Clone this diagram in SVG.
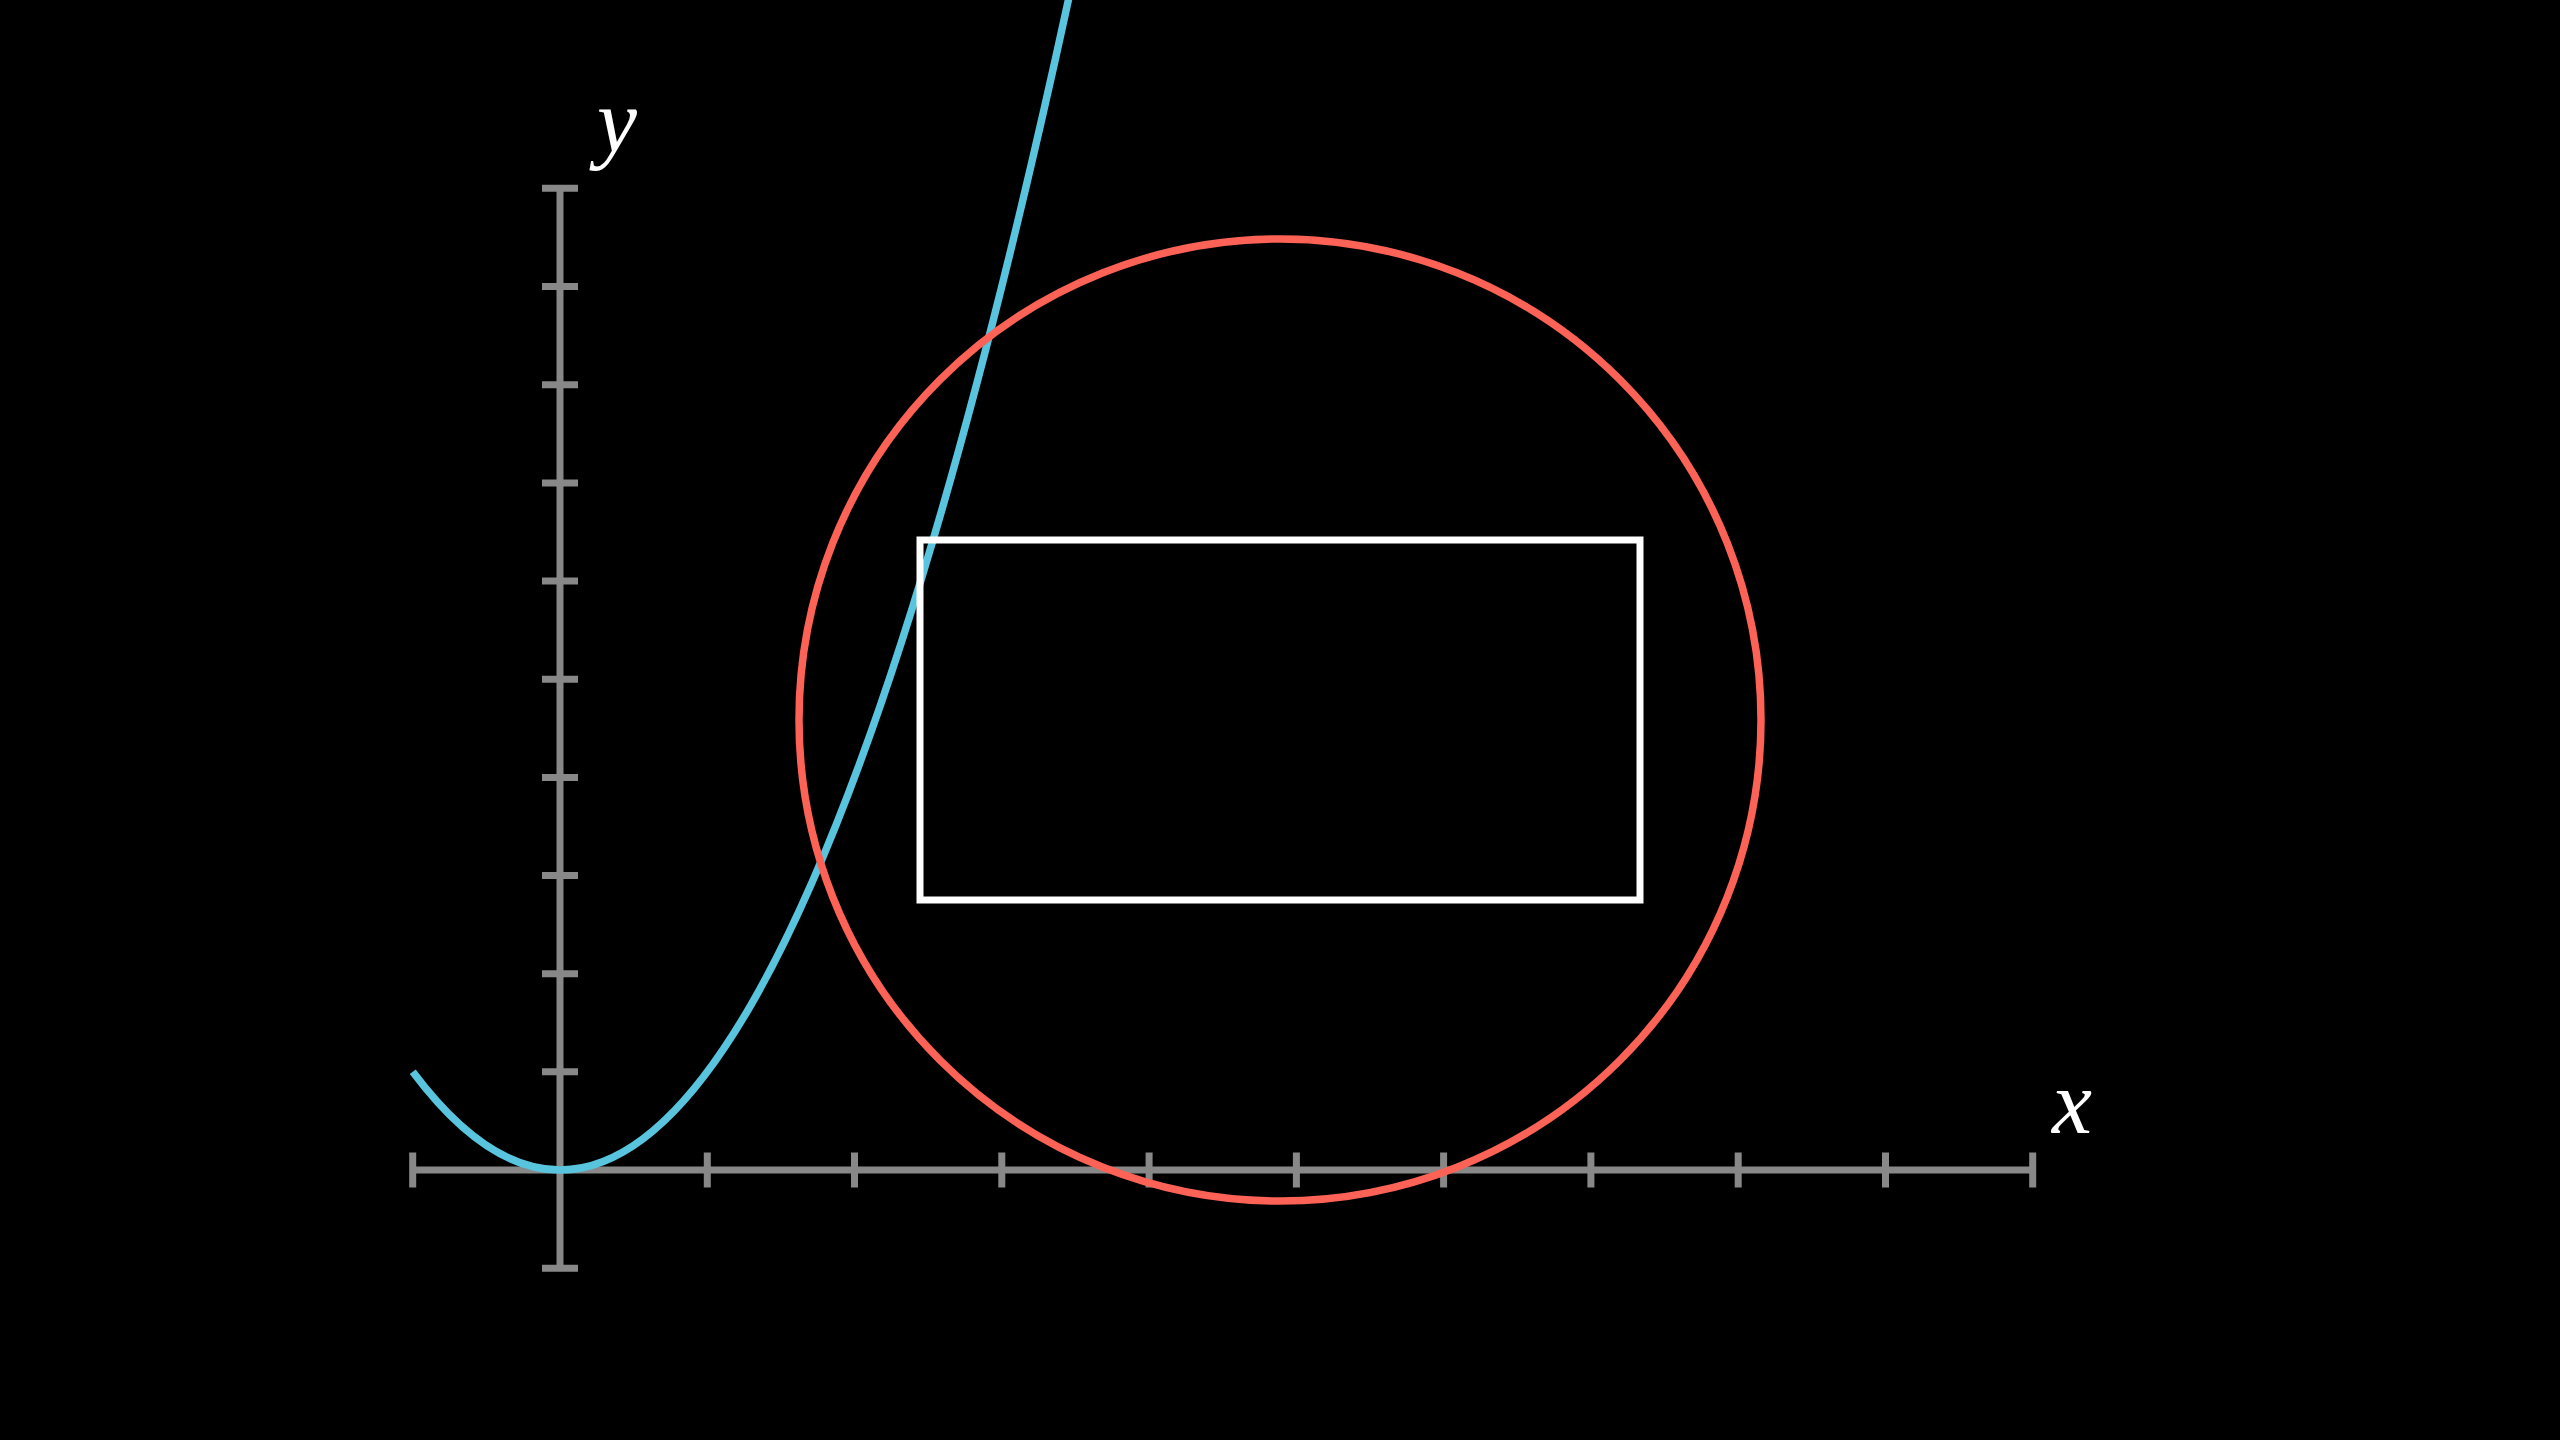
<svg xmlns="http://www.w3.org/2000/svg" width="2560" height="1440" viewBox="0 0 2560 1440">
<style>
.axis{stroke:#888888;stroke-width:7;fill:none}
.lbl{font-family:"Liberation Serif","DejaVu Serif",serif;font-style:italic;font-size:90px;fill:#ffffff}
</style>
<rect width="2560" height="1440" fill="#000000"/>
<g id="x-axis">
<path class="axis" d="M412.7 1170H2032.7"/>
<path class="axis" d="M412.7 1152.5v35M707.3 1152.5v35M854.5 1152.5v35M1001.8 1152.5v35M1149.1 1152.5v35M1296.4 1152.5v35M1443.6 1152.5v35M1590.9 1152.5v35M1738.2 1152.5v35M1885.5 1152.5v35M2032.7 1152.5v35"/>
<text class="lbl" x="2052" y="1133">x</text>
</g>
<g id="y-axis">
<path class="axis" d="M560 188.3V1268.3"/>
<path class="axis" d="M542 188.3h36M542 286.5h36M542 384.7h36M542 482.9h36M542 581h36M542 679.2h36M542 777.4h36M542 875.6h36M542 973.8h36M542 1071.8h36M542 1268.3h36"/>
<text class="lbl" x="597" y="152">y</text>
</g>
<g id="parabola">
<path d="M412.73 1071.82Q751.45 1523.45 1090.17 -102.4" fill="none" stroke="#58C4DD" stroke-width="7.5"/>
</g>
<g id="circle">
<circle cx="1280" cy="720" r="481" fill="none" stroke="#FC6255" stroke-width="7.5"/>
</g>
<g id="rectangle">
<rect x="920" y="540" width="720" height="360" fill="none" stroke="#ffffff" stroke-width="7"/>
</g>
</svg>
